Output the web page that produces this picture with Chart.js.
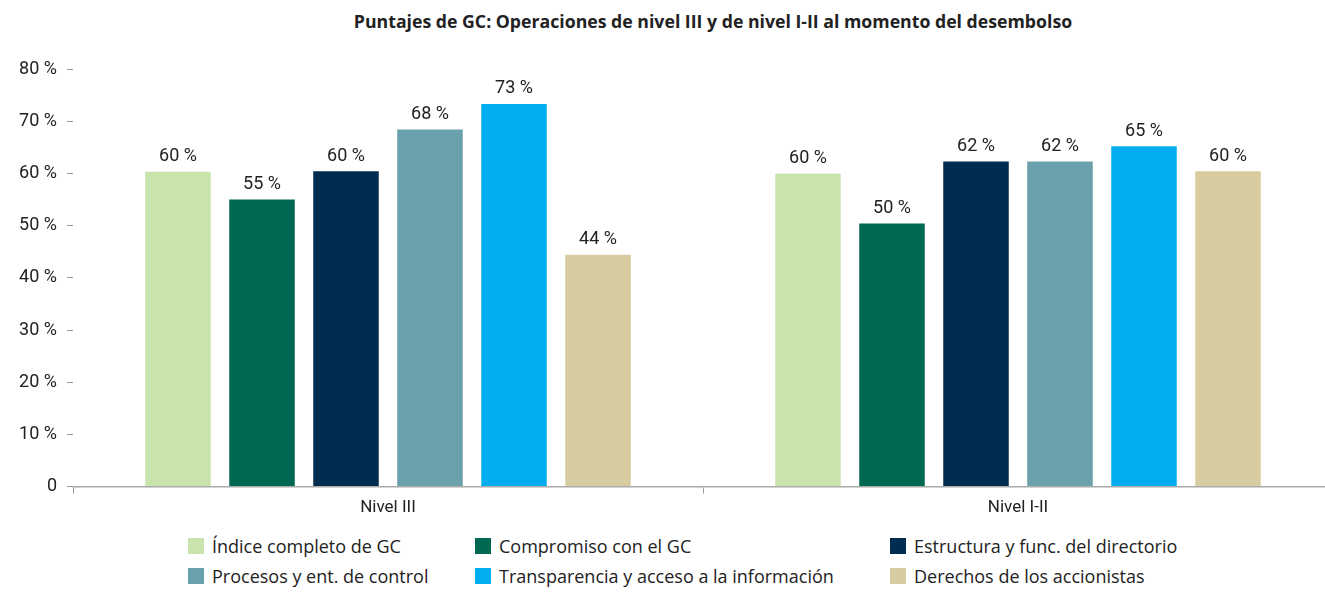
<!DOCTYPE html>
<html>
<head>
<meta charset="utf-8">
<script src="https://cdn.jsdelivr.net/npm/chart.js@4"></script>
<style>
  body { margin: 0; background: #fff; font-family: Roboto, sans-serif; color: #222; }
  #wrap { width: 1325px; height: 592px; position: relative; overflow: hidden; }
  #title { position: absolute; top: 9px; left: 0; width: 1325px; padding-left: 101px; box-sizing: border-box;
           text-align: center; font-family: "Open Sans", sans-serif; font-weight: bold; font-size: 17.7px; color: #222; }
  #box { position: absolute; top: 40px; left: 0; width: 1345px; height: 482px; }
  #legend { position: absolute; top: 534px; left: 188px; display: grid; font-family: "Open Sans", sans-serif;
            grid-template-columns: 287px 415px auto; row-gap: 6px; font-size: 18px; color: #222; }
  #legend span.item { display: flex; align-items: center; white-space: nowrap; }
  #legend i { display: inline-block; width: 16px; height: 16px; margin-right: 8px; }
</style>
</head>
<body>
<div id="wrap">
  <div id="title">Puntajes de GC: Operaciones de nivel III y de nivel I-II al momento del desembolso</div>
  <div id="box"><canvas id="gc-chart"></canvas></div>
  <div id="legend"></div>
</div>
<script>
const categories = ["Nivel III", "Nivel I-II"];
const seriesNames = [
  "Índice completo de GC",
  "Compromiso con el GC",
  "Estructura y func. del directorio",
  "Procesos y ent. de control",
  "Transparencia y acceso a la información",
  "Derechos de los accionistas",
];
const indiceCompleto = [60.3, 60.0];
const compromiso = [55.0, 50.4];
const estructura = [60.4, 62.3];
const procesos = [68.4, 62.3];
const transparencia = [73.3, 65.2];
const derechos = [44.4, 60.4];
const seriesColors = ["#c8e3ab", "#006752", "#002d4f", "#6aa1ac", "#00aeef", "#d7cba0"];
const yTicks = [0, 10, 20, 30, 40, 50, 60, 70, 80];

const allSeries = [indiceCompleto, compromiso, estructura, procesos, transparencia, derechos];

const valueLabels = {
  id: "valueLabels",
  afterDatasetsDraw(chart) {
    const c = chart.ctx;
    c.save();
    c.font = "18px Roboto";
    c.fillStyle = "#222";
    c.textAlign = "center";
    c.textBaseline = "bottom";
    chart.data.datasets.forEach((ds, i) => {
      chart.getDatasetMeta(i).data.forEach((bar, j) => {
        c.fillText(Math.round(ds.data[j]) + " %", bar.x, bar.y - 6);
      });
    });
    c.restore();
  },
};

const ctx = document.getElementById("gc-chart").getContext("2d");
const chart = new Chart(ctx, {
  type: "bar",
  data: {
    labels: categories,
    datasets: allSeries.map((d, i) => ({
      label: seriesNames[i],
      data: d,
      backgroundColor: seriesColors[i],
      borderWidth: 0,
      categoryPercentage: 0.8,
      barPercentage: 0.78,
    })),
  },
  options: {
    responsive: true,
    maintainAspectRatio: false,
    animation: false,
    layout: { padding: { top: 29, right: 12, left: 0, bottom: 0 } },
    plugins: {
      legend: { display: false },
      tooltip: { enabled: false },
    },
    scales: {
      x: {
        grid: { drawOnChartArea: false, tickLength: 7, color: "#999" },
        border: { color: "#aaa", width: 1.5 },
        ticks: { color: "#222", font: { family: "Roboto", size: 17 }, padding: 4 },
      },
      y: {
        min: 0,
        max: 80,
        afterBuildTicks: (s) => { s.ticks = yTicks.map((v) => ({ value: v })); },
        afterFit: (s) => { s.width = 73; },
        grid: { drawOnChartArea: false, tickLength: 6, color: "#999" },
        border: { display: false },
        ticks: {
          color: "#222",
          font: { family: "Roboto", size: 18 },
          padding: 10,
          callback: (v) => (v === 0 ? "0" : v + " %"),
        },
      },
    },
  },
  plugins: [valueLabels],
});

const legendEl = document.getElementById("legend");
chart.data.datasets.forEach((ds) => {
  const item = document.createElement("span");
  item.className = "item";
  item.innerHTML = '<i style="background:' + ds.backgroundColor + '"></i>' + ds.label;
  legendEl.appendChild(item);
});
</script>
</body>
</html>
